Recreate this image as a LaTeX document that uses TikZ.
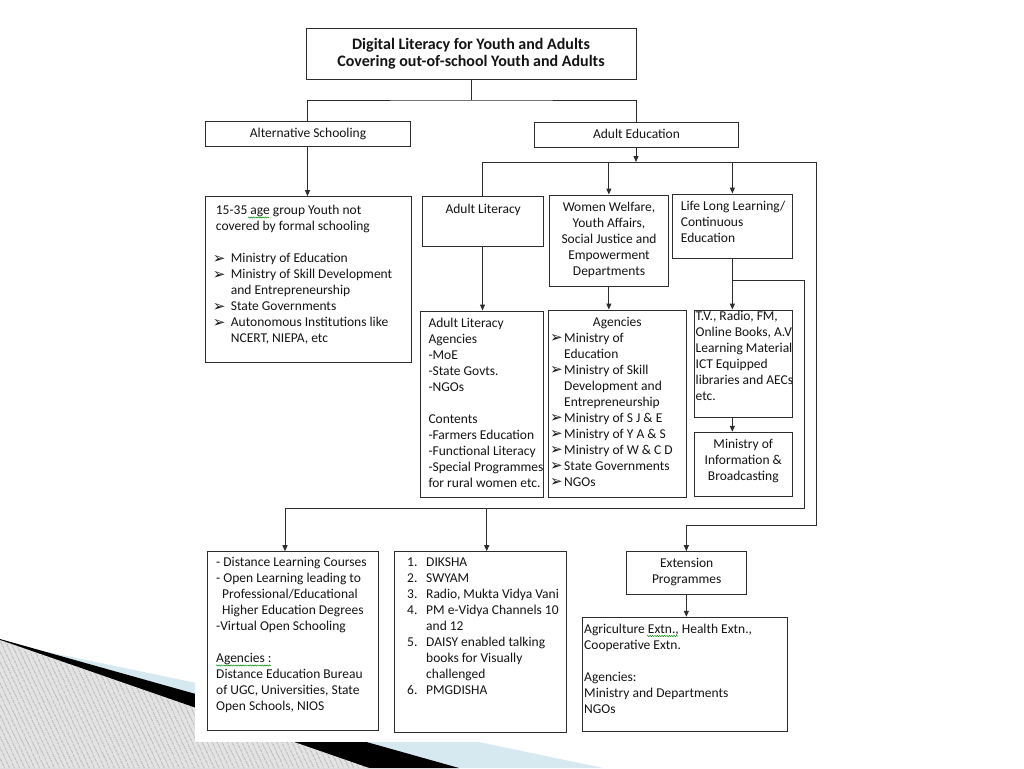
\documentclass[tikz,border=0pt]{standalone}
\usepackage{fontspec}
\setmainfont{Carlito}
\newfontfamily\djv{DejaVu Sans}
\usetikzlibrary{arrows.meta,fit,patterns.meta,decorations.pathmorphing}
\definecolor{linec}{RGB}{45,45,45}
\definecolor{textc}{RGB}{20,20,20}
\definecolor{lightblu}{RGB}{214,232,240}
\newcommand\fs{\fontsize{13.5}{16}\selectfont}
\newcommand\bul{\raisebox{-0.5pt}{\djv\fontsize{15}{16}\selectfont ➢}}
\tikzset{
  bx/.style={draw=linec, line width=1pt, inner sep=0pt},
  ln/.style={draw=linec, line width=1pt},
  arr/.style={ln, -{Triangle[length=6pt,width=5pt]}},
  txt/.style={inner sep=0pt, anchor=north west, align=left, font=\fs, text=textc},
  ctxt/.style={inner sep=0pt, anchor=north, align=center, font=\fs, text=textc},
  squig/.style={draw=green!55!black, line width=0.5pt, decorate, decoration={snake, amplitude=0.6pt, segment length=2.4pt}}
}
\begin{document}
\begin{tikzpicture}[x=1pt,y=-1pt]
\useasboundingbox (0,0) rectangle (1024,768);
\fill[white] (0,0) rectangle (1024,768);
% decoration bottom left
\fill[lightblu] (0,642) -- (603,768) -- (0,768) -- cycle;
\fill[black] (0,639) -- (459,768) -- (0,768) -- cycle;
\fill[gray!22] (0,640) -- (369,768) -- (0,768) -- cycle;
\fill[pattern={Lines[angle=-65,distance=4pt,line width=1pt]}, pattern color=gray!65] (0,640) -- (369,768) -- (0,768) -- cycle;
\fill[white] (195,0) rectangle (1024,742);

% boxes
\node[bx, fit={(306,29) (636,79)}] (top) {};
\node[bx, fit={(205,121) (410,146)}] (alt) {};
\node[bx, fit={(534,122) (738,147)}] (adu) {};
\node[bx, fit={(205.7,196.7) (411,362.7)}] (b1535) {};
\node[bx, fit={(422,196) (543,246)}] (alit) {};
\node[bx, fit={(549,195) (668.7,286)}] (ww) {};
\node[bx, fit={(672.7,194) (792,258.7)}] (ll) {};
\node[bx, fit={(420,311) (543.3,497.3)}] (alag) {};
\node[bx, fit={(548.3,310) (686.7,497.3)}] (agen) {};
\node[bx, fit={(694.7,310) (792,417.3)}] (tv) {};
\node[bx, fit={(694.7,432.3) (792,496.7)}] (mib) {};
\node[bx, fit={(207.3,551.7) (378.3,730)}] (dist) {};
\node[bx, fit={(394.7,551.7) (566.7,732.7)}] (dik) {};
\node[bx, fit={(626,551.7) (746.7,594.3)}] (ext) {};
\node[bx, fit={(582,617.3) (787.3,731)}] (agr) {};

% texts
\node[ctxt, font=\fontsize{16}{17.3}\selectfont\bfseries] (topT) at (471,36.9)
  {\strut Digital Literacy for Youth and Adults\\Covering out-of-school Youth and Adults};
\node[ctxt] (altT) at (308,126.2) {\strut Alternative Schooling};
\node[ctxt] (aduT) at (636.5,126.8) {\strut Adult Education};
\node[txt] (b1535T) at (212.7,203.5) {\strut\hspace*{3pt}15-35 age group Youth not\\
  \hspace*{3pt}covered by formal schooling\\ \mbox{}\\
  \makebox[18pt][l]{\bul}Ministry of Education\\
  \makebox[18pt][l]{\bul}Ministry of Skill Development\\
  \hspace*{18pt}and Entrepreneurship\\
  \makebox[18pt][l]{\bul}State Governments\\
  \makebox[18pt][l]{\bul}Autonomous Institutions like\\
  \hspace*{18pt}NCERT, NIEPA, etc};
\node[ctxt] (alitT) at (483.2,202.1) {\strut Adult Literacy};
\node[ctxt] (wwT) at (609,200.5) {\strut Women Welfare,\\Youth Affairs,\\Social Justice and\\Empowerment\\Departments};
\node[txt] (llT) at (680.7,198.8) {\strut Life Long Learning/\\Continuous\\Education};
\node[txt] (alagT) at (428.3,316.1) {\strut Adult Literacy\\Agencies\\-MoE\\-State Govts.\\-NGOs\\ \mbox{}\\
  Contents\\-Farmers Education\\-Functional Literacy\\-Special Programmes\\for rural women etc.};
\node[ctxt] (agenT) at (617.3,314.8) {\strut Agencies};
\node[txt] (agenL) at (550,330.8) {\strut\makebox[14pt][l]{\bul}Ministry of\\
  \hspace*{14pt}Education\\
  \makebox[14pt][l]{\bul}Ministry of Skill\\
  \hspace*{14pt}Development and\\
  \hspace*{14pt}Entrepreneurship\\
  \makebox[14pt][l]{\bul}Ministry of S J \& E\\
  \makebox[14pt][l]{\bul}Ministry of Y A \& S\\
  \makebox[14pt][l]{\bul}Ministry of W \& C D\\
  \makebox[14pt][l]{\bul}State Governments\\
  \makebox[14pt][l]{\bul}NGOs};
\node[txt] (tvT) at (695.5,309.5) {\strut T.V., Radio, FM,\\Online Books, A.V\\Learning Material\\ICT Equipped\\libraries and AECs\\etc.};
\node[ctxt] (mibT) at (743.3,437.1) {\strut Ministry of\\Information \&\\Broadcasting};
\node[txt] (distT) at (216,555.5) {\strut - Distance Learning Courses\\
  - Open Learning leading to\\
  \hspace*{6pt}Professional/Educational\\
  \hspace*{6pt}Higher Education Degrees\\
  -Virtual Open Schooling\\ \mbox{}\\
  Agencies :\\Distance Education Bureau\\of UGC, Universities, State\\Open Schools, NIOS};
\node[txt] (dikT) at (407,555.5) {\strut\makebox[19pt][l]{1.}DIKSHA\\
  \makebox[19pt][l]{2.}SWYAM\\
  \makebox[19pt][l]{3.}Radio, Mukta Vidya Vani\\
  \makebox[19pt][l]{4.}PM e-Vidya Channels 10\\
  \hspace*{19pt}and 12\\
  \makebox[19pt][l]{5.}DAISY enabled talking\\
  \hspace*{19pt}books for Visually\\
  \hspace*{19pt}challenged\\
  \makebox[19pt][l]{6.}PMGDISHA};
\node[ctxt] (extT) at (686.7,556.5) {\strut Extension\\Programmes};
\node[txt] (agrT) at (584,622.1) {\strut Agriculture Extn., Health Extn.,\\Cooperative Extn.\\ \mbox{}\\Agencies:\\Ministry and Departments\\NGOs};

% spell-check squiggles
\draw[squig] (248,217.5) -- (269,217.5);
\draw[squig] (216,665.5) -- (271,665.5);
\draw[squig] (647,636) -- (678,636);

% connectors
\coordinate (j0) at (471,100);
\draw[ln] (top.south) -- (j0);
\draw[ln] (alt.north) |- (j0) -| (adu.north);
\draw[arr] (alt.south) -- (alt.south |- b1535.north);
\coordinate (h1) at (636,162);
\coordinate (r1) at (816,162);
\coordinate (r2) at (816,525);
\draw[arr] (alit.north) |- (r1) -- (r2) -| (ext.north);
\draw[arr] (adu.south) -- (h1);
\draw[arr] (ww.north |- h1) -- (ww.north);
\draw[arr] (ll.north |- h1) -- (ll.north);
\draw[arr] (alit.south) -- (alit.south |- alag.north);
\draw[arr] (ww.south) -- (ww.south |- agen.north);
\draw[arr] (ll.south) -- (ll.south |- tv.north);
\draw[arr] (ll.south |- tv.south) -- (ll.south |- mib.north);
\coordinate (c2) at (804.3,280);
\coordinate (c3) at (804.3,508);
\coordinate (c4) at (285,508);
\coordinate (c5) at (486.7,508);
\draw[ln] (ll.south |- c2) -- (c2) -- (c3) -- (c4);
\draw[arr] (c4) -- (c4 |- dist.north);
\draw[arr] (c5) -- (c5 |- dik.north);
\draw[arr] (ext.south) -- (ext.south |- agr.north);
\end{tikzpicture}
\end{document}
